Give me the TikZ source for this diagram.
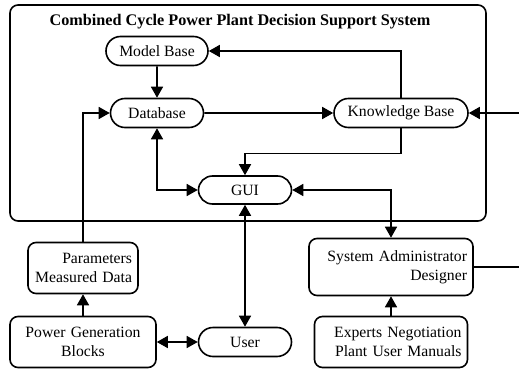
\documentclass[tikz,border=0pt]{standalone}
\usepackage{fontspec}
\setmainfont{Liberation Serif}
\usetikzlibrary{arrows.meta,shapes.misc}

\begin{document}
\begin{tikzpicture}[x=1pt,y=-1pt,line width=1.6pt,>={Triangle[length=11pt,width=12pt]}]
  \tikzstyle{every node}=[font=\fontsize{15.7}{19}\selectfont,inner sep=0pt]
  \tikzstyle{pill}=[draw,rounded rectangle,minimum height=29pt]
  \tikzstyle{block}=[draw,rounded corners=8pt,minimum height=51pt,inner xsep=6pt]

  \clip (0,0) rectangle (519,369);
  \draw[rounded corners=8pt] (10,5) rectangle (486,221);
  \node[font=\bfseries\fontsize{16.2}{19}\selectfont] (title) at (240,22) {Combined Cycle Power Plant Decision Support System};

  \node[pill,minimum width=102pt] (mb) at (157,51)              {Model Base};
  \node[pill,minimum width=93pt]  (db)  [below of=mb,node distance=62pt]  {Database};
  \node[pill,minimum width=134pt] (kb)  [right of=db,node distance=244pt] {Knowledge Base};
  \node[pill,minimum width=93pt,minimum height=28pt] (gui) at (245,190) {GUI};
  \node[pill,minimum width=93pt]  (user) [below of=gui,node distance=152pt] {User};

  \node[block,text width=134pt,align=center] (pgb) [left of=user,node distance=162pt] {Power Generation\\Blocks};
  \node[block,text width=98pt,align=right]   (par) [above of=pgb,node distance=74pt]  {Parameters\\Measured Data};
  \node[block,text width=152pt,align=right,minimum height=57pt] (sa) at (391,267) {System Administrator\\Designer};
  \node[block,text width=141pt,align=right]  (exp) [below of=sa,node distance=75pt]   {Experts Negotiation\\Plant User Manuals};

  \draw[->] (mb) to (db);
  \draw[->] (db) to (kb);
  \draw[->] (kb.north) |- (mb.east);
  \draw[->] (kb.south) -- ++(0,25) -| (gui.north);
  \draw[<->] (db.south) |- (gui.west);
  \draw[->] (par.north) |- (db.west);
  \draw[<->] (gui.east) -| (sa.north);
  \draw[<->] (gui.south) to (user.north);
  \draw[<->] (pgb.east) to (user.west);
  \draw[->] (pgb.north) to (par.south);
  \draw[->] (exp.north) to (sa.south);
  \draw[->] (sa.east) -- ++(60,0) |- (kb.east);

\end{tikzpicture}
\end{document}
